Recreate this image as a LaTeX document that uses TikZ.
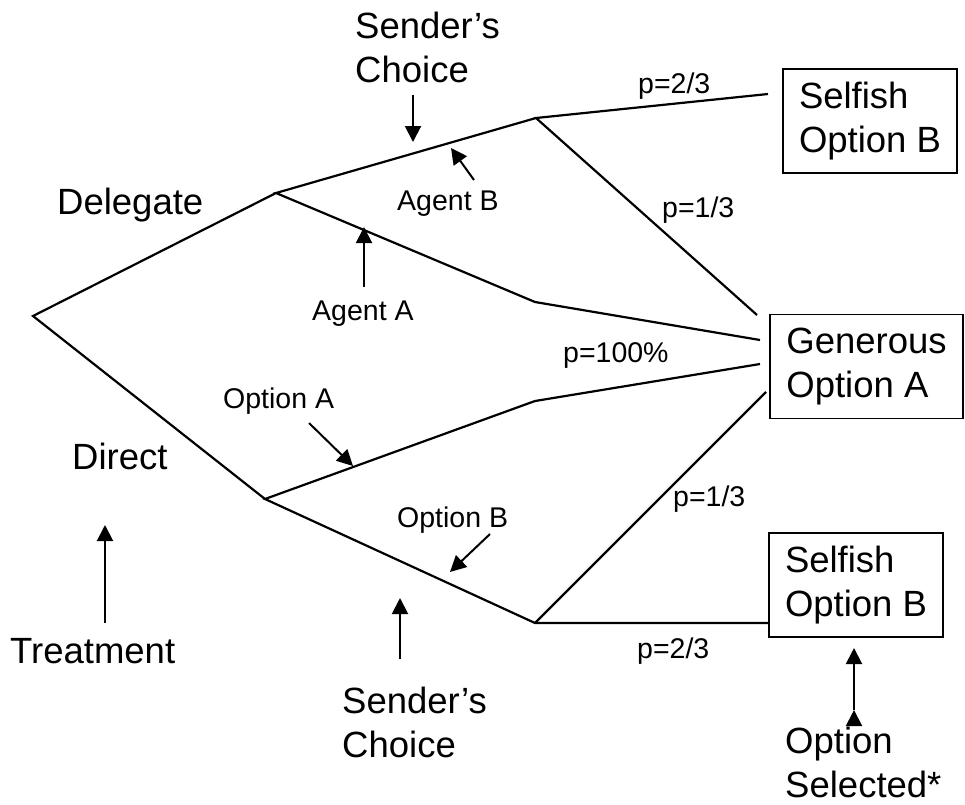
\documentclass[tikz,border=0pt]{standalone}
\usepackage{fontspec}
\setmainfont{Liberation Sans}
\usetikzlibrary{arrows.meta}

\begin{document}
\begin{tikzpicture}[x=1pt, y=-1pt]
    \tikzstyle{branch}=[line width=2.2pt, line join=miter];
    \tikzstyle{pointer}=[-{Triangle[length=16pt,width=16pt]}, line width=2pt];
    \tikzstyle{bigtext}=[font=\fontsize{36.5}{43.5}\selectfont, inner sep=0pt, anchor=base west, align=left];
    \tikzstyle{smalltext}=[font=\fontsize{28.5}{34}\selectfont, inner sep=0pt, anchor=base west];
    \tikzstyle{outcome}=[draw, line width=1.8pt, font=\fontsize{36.5}{43.5}\selectfont, align=left, inner xsep=16pt, minimum height=104pt];

    \useasboundingbox (0,0) rectangle (965,804);

    \coordinate (root) at (33,316);
    \coordinate (dlg) at (276,193);
    \coordinate (dir) at (265,499);
    \coordinate (agentB) at (536,118);
    \coordinate (agentA) at (535,302);
    \coordinate (optA) at (535,401);
    \coordinate (optB) at (535,623);

    \node[outcome](selfTop) at (870,121) {Selfish\\Option B};
    \node[outcome](gen) at (866.5,366.5) {Generous\\Option A};
    \node[outcome](selfBot) at (856,585) {Selfish\\Option B};

    \coordinate (inSelfTop) at (768,94);
    \coordinate (inGenA) at (757,315);
    \coordinate (inGenB) at (760,340);
    \coordinate (inGenC) at (760,364);
    \coordinate (inGenD) at (766,392);
    \coordinate (inSelfBot) at (768,623);

    \draw[branch] (dlg) -- (root) -- (dir);
    \draw[branch] (agentB) -- (dlg) -- (agentA) -- (inGenB);
    \draw[branch] (optA) -- (dir) -- (optB) -- (inSelfBot);
    \draw[branch] (optA) -- (inGenC);
    \draw[branch] (inSelfTop) -- (agentB) -- (inGenA);
    \draw[branch] (optB) -- (inGenD);

    \node[bigtext](delegate) at (57,214) {Delegate};
    \node[bigtext](direct) at (72,469) {Direct};
    \node[bigtext](treatment) at (10,663) {Treatment};
    \node[bigtext](sendTop) at (355,82) {Sender’s\\Choice};
    \node[bigtext](sendBot) at (342,757) {Sender’s\\Choice};
    \node[bigtext](selected) at (785,797) {Option\\Selected*};

    \node[smalltext](lblAgentB) at (397,210.5) {Agent B};
    \node[smalltext](lblAgentA) at (312,320.5) {Agent A};
    \node[smalltext](lblOptA) at (223,408.5) {Option A};
    \node[smalltext](lblOptB) at (397,527.5) {Option B};
    \node[smalltext](pTopA) at (638,93.5) {p=2/3};
    \node[smalltext](pTopB) at (662,217.5) {p=1/3};
    \node[smalltext](pAll) at (563,362.5) {p=100\%};
    \node[smalltext](pBotB) at (673,506) {p=1/3};
    \node[smalltext](pBotA) at (637,658.5) {p=2/3};

    \coordinate (sendTopT) at (413,95);
    \coordinate (sendTopH) at (413,142);
    \coordinate (agentBT) at (474,180);
    \coordinate (agentBH) at (451,148);
    \coordinate (agentAT) at (364,287);
    \coordinate (agentAH) at (364,227);
    \coordinate (optAT) at (309,423);
    \coordinate (optAH) at (353,466);
    \coordinate (optBT) at (490,534);
    \coordinate (optBH) at (450,572);
    \coordinate (sendBotT) at (400,659);
    \coordinate (sendBotH) at (400,598);
    \coordinate (treatT) at (105,623);
    \coordinate (treatH) at (105,525);
    \coordinate (selT) at (854,710);
    \coordinate (selH) at (854,648);

    \draw[pointer]
        (sendTopT) edge (sendTopH)
        (agentBT) edge (agentBH)
        (agentAT) edge (agentAH)
        (optAT) edge (optAH)
        (optBT) edge (optBH)
        (sendBotT) edge (sendBotH)
        (treatT) edge (treatH)
        (selT) edge (selH)
    ;
\end{tikzpicture}
\end{document}
